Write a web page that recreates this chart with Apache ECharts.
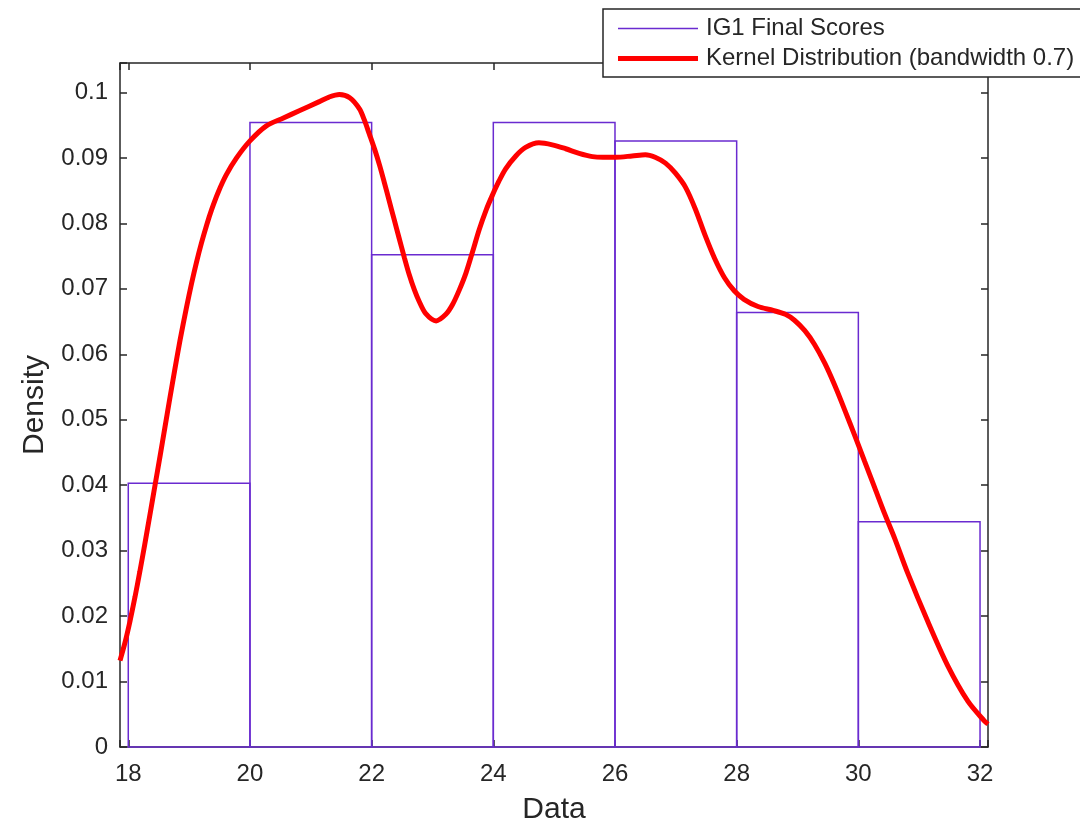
<!DOCTYPE html>
<html>
<head>
<meta charset="utf-8">
<script src="https://cdn.jsdelivr.net/npm/echarts@6/dist/echarts.min.js"></script>
<style>
html, body { margin: 0; padding: 0; background: #fff; }
#chart { width: 1080px; height: 830px; }
</style>
</head>
<body>
<div id="chart"></div>
<script>
// histogram (normalised to density), bin edges every 2 points
const binEdges = [18, 20, 22, 24, 26, 28, 30, 32];
const binDensity = [0.0403, 0.0954, 0.0752, 0.0954, 0.0926, 0.0664, 0.0344];

// kernel density estimate
const kdeX = [17.864, 17.95, 18.03, 18.11, 18.19, 18.27, 18.36, 18.44, 18.52, 18.6,
    18.68, 18.76, 18.85, 18.96, 19.04, 19.12, 19.2, 19.29, 19.37, 19.48,
    19.61, 19.78, 20.0, 20.27, 20.55, 20.81, 21.14, 21.3, 21.47, 21.64,
    21.8, 21.88, 21.96, 22.05, 22.13, 22.21, 22.29, 22.37, 22.45, 22.54,
    22.62, 22.7, 22.78, 22.89, 23.06, 23.22, 23.33, 23.44, 23.55, 23.66,
    23.77, 23.88, 23.98, 24.09, 24.2, 24.37, 24.53, 24.75, 24.97, 25.19,
    25.41, 25.63, 25.8, 26.01, 26.28, 26.5, 26.66, 26.83, 26.99, 27.16,
    27.32, 27.48, 27.64, 27.8, 27.96, 28.12, 28.35, 28.6, 28.8, 28.95,
    29.12, 29.28, 29.45, 29.61, 29.78, 29.94, 30.1, 30.27, 30.43, 30.6,
    30.81, 31.14, 31.47, 31.8, 32.07, 32.131];
const kdeY = [0.0132, 0.0161, 0.0193, 0.0229, 0.0268, 0.0309, 0.0357, 0.0400, 0.0443, 0.0487,
    0.0531, 0.0574, 0.0621, 0.0673, 0.0708, 0.0740, 0.0769, 0.0798, 0.0821, 0.0848,
    0.0874, 0.0900, 0.0926, 0.0949, 0.0961, 0.0972, 0.0986, 0.0993, 0.0997, 0.0992,
    0.0975, 0.0958, 0.0937, 0.0913, 0.0889, 0.0862, 0.0834, 0.0806, 0.0778, 0.0747,
    0.0721, 0.0699, 0.0681, 0.0662, 0.0651, 0.0661, 0.0676, 0.0698, 0.0724, 0.0757,
    0.0791, 0.0820, 0.0842, 0.0864, 0.0883, 0.0903, 0.0916, 0.0923, 0.0920, 0.0914,
    0.0907, 0.0902, 0.0901, 0.0901, 0.0903, 0.0905, 0.0901, 0.0892, 0.0877, 0.0855,
    0.0822, 0.0782, 0.0746, 0.0717, 0.0697, 0.0684, 0.0673, 0.0667, 0.0661, 0.0652,
    0.0636, 0.0615, 0.0586, 0.0553, 0.0514, 0.0476, 0.0437, 0.0396, 0.0357, 0.0318,
    0.0266, 0.0192, 0.0124, 0.0070, 0.0040, 0.0035];

const xMin = 17.864, xMax = 32.131;
const yMin = 0, yMax = 0.1045;

const FONT = 'Liberation Sans, Arial, Helvetica, sans-serif';
const AXIS_COLOR = '#262626';
const HIST_COLOR = '#6a2bd0';
const KDE_COLOR = '#ff0000';

var chart = echarts.init(document.getElementById('chart'), null, { renderer: 'canvas' });

var histData = [];
for (var i = 0; i < binDensity.length; i++) {
    histData.push([binEdges[i], binEdges[i + 1], binDensity[i]]);
}
var kdeData = kdeX.map(function (x, i) { return [x, kdeY[i]]; });

function xLabel(v) {
    return Math.abs(v - Math.round(v)) < 1e-9 ? String(Math.round(v)) : '';
}
function yLabel(v) {
    var r = Math.round(v * 100) / 100;
    return Math.abs(v - r) < 1e-9 ? String(r) : '';
}

var axisLine = { show: true, onZero: false, lineStyle: { color: AXIS_COLOR, width: 1.5 } };
var axisTick = { show: true, inside: true, length: 7, lineStyle: { color: AXIS_COLOR, width: 1.5 } };

var option = {
    backgroundColor: '#ffffff',
    animation: false,
    grid: { left: 120, right: 92, top: 63, bottom: 82 },
    legend: {
        orient: 'vertical',
        left: 603,
        top: 9,
        padding: [7, 8, 6, 15],
        itemWidth: 80,
        itemHeight: 14,
        itemGap: 5,
        backgroundColor: '#ffffff',
        borderColor: AXIS_COLOR,
        borderWidth: 1.5,
        textStyle: { color: AXIS_COLOR, fontSize: 24, fontFamily: FONT, lineHeight: 25, padding: [0, 0, 0, 3] },
        data: [
            { name: 'IG1 Final Scores', icon: 'path://M0,0 H80 V1.5 H0 Z', itemStyle: { color: HIST_COLOR, borderWidth: 0 } },
            { name: 'Kernel Distribution (bandwidth 0.7)', icon: 'path://M0,0 H80 V5 H0 Z', itemStyle: { color: KDE_COLOR, borderWidth: 0 } }
        ]
    },
    xAxis: [
        {
            type: 'value',
            min: xMin,
            max: xMax,
            splitNumber: 7,
            name: 'Data',
            nameLocation: 'middle',
            nameGap: 48,
            nameTextStyle: { color: AXIS_COLOR, fontSize: 30, fontFamily: FONT },
            axisLine: axisLine,
            axisTick: axisTick,
            axisLabel: { color: AXIS_COLOR, fontSize: 24, fontFamily: FONT, margin: 15, formatter: xLabel },
            splitLine: { show: false }
        },
        {
            type: 'value',
            position: 'top',
            min: xMin,
            max: xMax,
            splitNumber: 7,
            axisLine: axisLine,
            axisTick: axisTick,
            axisLabel: { show: false },
            splitLine: { show: false }
        }
    ],
    yAxis: [
        {
            type: 'value',
            min: yMin,
            max: yMax,
            interval: 0.01,
            name: 'Density',
            nameLocation: 'middle',
            nameGap: 70,
            nameTextStyle: { color: AXIS_COLOR, fontSize: 30, fontFamily: FONT },
            axisLine: axisLine,
            axisTick: axisTick,
            axisLabel: { color: AXIS_COLOR, fontSize: 24, fontFamily: FONT, margin: 12, formatter: yLabel },
            splitLine: { show: false }
        },
        {
            type: 'value',
            position: 'right',
            min: yMin,
            max: yMax,
            interval: 0.01,
            axisLine: axisLine,
            axisTick: axisTick,
            axisLabel: { show: false },
            splitLine: { show: false }
        }
    ],
    series: [
        {
            name: 'IG1 Final Scores',
            type: 'custom',
            xAxisIndex: 0,
            yAxisIndex: 0,
            itemStyle: { color: HIST_COLOR },
            encode: { x: [0, 1], y: 2 },
            data: histData,
            renderItem: function (params, api) {
                var p0 = api.coord([api.value(0), api.value(2)]);
                var p1 = api.coord([api.value(1), 0]);
                return {
                    type: 'rect',
                    shape: { x: p0[0], y: p0[1], width: p1[0] - p0[0], height: p1[1] - p0[1] },
                    style: { fill: 'none', stroke: HIST_COLOR, lineWidth: 1.5 }
                };
            },
            z: 2
        },
        {
            name: 'Kernel Distribution (bandwidth 0.7)',
            type: 'line',
            xAxisIndex: 0,
            yAxisIndex: 0,
            data: kdeData,
            smooth: 0.3,
            showSymbol: false,
            symbol: 'none',
            clip: true,
            lineStyle: { color: KDE_COLOR, width: 5 },
            itemStyle: { color: KDE_COLOR },
            z: 3
        }
    ]
};

chart.setOption(option);
window.addEventListener('resize', function () { chart.resize(); });
</script>
</body>
</html>
